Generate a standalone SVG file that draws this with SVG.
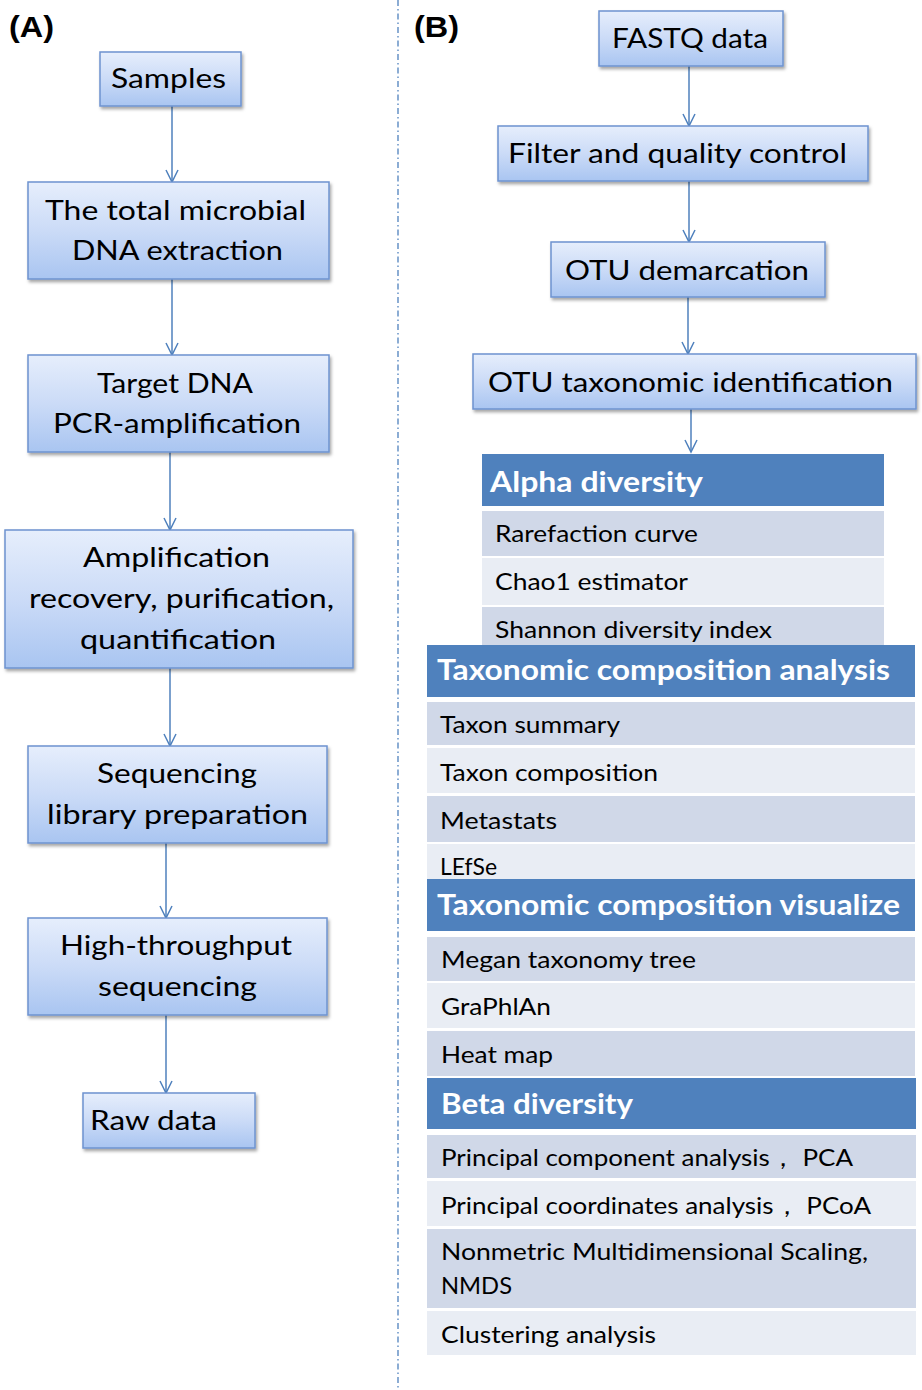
<svg xmlns="http://www.w3.org/2000/svg" width="922" height="1390" viewBox="0 0 922 1390">
<defs>
<linearGradient id="g" x1="0" y1="0" x2="0" y2="1">
<stop offset="0" stop-color="#E6EEFC"/>
<stop offset="0.5" stop-color="#CBDBF7"/>
<stop offset="1" stop-color="#A9C5F1"/>
</linearGradient>
<filter id="sh" x="-5%" y="-5%" width="112%" height="125%">
<feDropShadow dx="1.5" dy="2.5" stdDeviation="1.5" flood-color="#000" flood-opacity="0.35"/>
</filter>
<marker id="ar" markerUnits="userSpaceOnUse" markerWidth="16" markerHeight="14" refX="13" refY="7" orient="auto">
<path d="M1,1 L13,7 L1,13" fill="none" stroke="#4F81BD" stroke-width="1.5"/>
</marker>
<style>
.box{fill:url(#g);stroke:#6E93CF;stroke-width:1.5;filter:url(#sh)}
.t{font-family:Lato,"Open Sans","Liberation Sans",sans-serif;font-size:27px;fill:#000}
.lbl{font-family:"Liberation Sans",Arial,sans-serif;font-weight:bold;font-size:29px;fill:#000}
.hd{fill:#4F81BD}
.dk{fill:#D0D8E8}
.lt{fill:#E9EDF4}
.ht{font-family:Lato,"Open Sans","Liberation Sans",sans-serif;font-weight:bold;font-size:28px;fill:#fff}
.rt{font-family:Lato,"Open Sans","Liberation Sans",sans-serif;font-size:24px;fill:#000}
.con{stroke:#4F81BD;stroke-width:1.5;fill:none;marker-end:url(#ar)}
</style>
</defs>
<rect width="922" height="1390" fill="#fff"/>
<text class="lbl" x="9" y="37" textLength="45" lengthAdjust="spacingAndGlyphs">(A)</text>
<text class="lbl" x="414" y="37" textLength="45" lengthAdjust="spacingAndGlyphs">(B)</text>
<line x1="398" y1="0" x2="398" y2="1390" stroke="#4F81BD" stroke-width="1.3" stroke-dasharray="6,3,1.5,3"/>

<g id="connectors">
<line class="con" x1="172" y1="106" x2="172" y2="182"/>
<line class="con" x1="172" y1="279" x2="172" y2="355"/>
<line class="con" x1="170" y1="452" x2="170" y2="530"/>
<line class="con" x1="170" y1="668" x2="170" y2="746"/>
<line class="con" x1="166" y1="843" x2="166" y2="918"/>
<line class="con" x1="166" y1="1015" x2="166" y2="1093"/>
<line class="con" x1="689" y1="66" x2="689" y2="126"/>
<line class="con" x1="689" y1="181" x2="689" y2="242"/>
<line class="con" x1="688" y1="297" x2="688" y2="354"/>
<line class="con" x1="691" y1="409" x2="691" y2="452"/>
</g>

<g id="n-samples"><rect class="box" x="100" y="52" width="141" height="54"/>
<text class="t" x="111" y="88" textLength="115" lengthAdjust="spacingAndGlyphs">Samples</text></g>
<g id="n-extraction"><rect class="box" x="28" y="182" width="301" height="97"/>
<text class="t" x="45" y="220" textLength="261" lengthAdjust="spacingAndGlyphs">The total microbial</text>
<text class="t" x="72" y="260" textLength="211" lengthAdjust="spacingAndGlyphs">DNA extraction</text></g>
<g id="n-pcr"><rect class="box" x="28" y="355" width="301" height="97"/>
<text class="t" x="97" y="393" textLength="156" lengthAdjust="spacingAndGlyphs">Target DNA</text>
<text class="t" x="53" y="433" textLength="248" lengthAdjust="spacingAndGlyphs">PCR-amplification</text></g>
<g id="n-amp"><rect class="box" x="5" y="530" width="348" height="138"/>
<text class="t" x="83" y="567" textLength="187" lengthAdjust="spacingAndGlyphs">Amplification</text>
<text class="t" x="29" y="608" textLength="305" lengthAdjust="spacingAndGlyphs">recovery, purification,</text>
<text class="t" x="80" y="649" textLength="196" lengthAdjust="spacingAndGlyphs">quantification</text></g>
<g id="n-lib"><rect class="box" x="28" y="746" width="299" height="97"/>
<text class="t" x="97" y="783" textLength="160" lengthAdjust="spacingAndGlyphs">Sequencing</text>
<text class="t" x="47" y="824" textLength="261" lengthAdjust="spacingAndGlyphs">library preparation</text></g>
<g id="n-hts"><rect class="box" x="28" y="918" width="299" height="97"/>
<text class="t" x="60" y="955" textLength="232" lengthAdjust="spacingAndGlyphs">High-throughput</text>
<text class="t" x="98" y="996" textLength="159" lengthAdjust="spacingAndGlyphs">sequencing</text></g>
<g id="n-raw"><rect class="box" x="83" y="1093" width="172" height="55"/>
<text class="t" x="90" y="1130" textLength="127" lengthAdjust="spacingAndGlyphs">Raw data</text></g>

<g id="n-fastq"><rect class="box" x="599" y="11" width="184" height="55"/>
<text class="t" x="612" y="48" textLength="156" lengthAdjust="spacingAndGlyphs">FASTQ data</text></g>
<g id="n-filter"><rect class="box" x="498" y="126" width="370" height="55"/>
<text class="t" x="508" y="163" textLength="339" lengthAdjust="spacingAndGlyphs">Filter and quality control</text></g>
<g id="n-otu"><rect class="box" x="551" y="242" width="274" height="55"/>
<text class="t" x="565" y="280" textLength="244" lengthAdjust="spacingAndGlyphs">OTU demarcation</text></g>
<g id="n-otutax"><rect class="box" x="473" y="354" width="443" height="55"/>
<text class="t" x="488" y="392" textLength="405" lengthAdjust="spacingAndGlyphs">OTU taxonomic identification</text></g>

<g id="t-alpha">
<rect class="hd" x="482" y="454" width="402" height="52"/>
<text class="ht" x="490" y="492" textLength="213" lengthAdjust="spacingAndGlyphs">Alpha diversity</text>
<rect class="dk" x="482" y="511" width="402" height="45"/>
<text class="rt" x="495" y="542" textLength="203" lengthAdjust="spacingAndGlyphs">Rarefaction curve</text>
<rect class="lt" x="482" y="558" width="402" height="47"/>
<text class="rt" x="495" y="590" textLength="193" lengthAdjust="spacingAndGlyphs">Chao1 estimator</text>
<rect class="dk" x="482" y="607" width="402" height="38"/>
<text class="rt" x="495" y="638" textLength="277" lengthAdjust="spacingAndGlyphs">Shannon diversity index</text>
</g>
<g id="t-comp">
<rect class="hd" x="427" y="645" width="488" height="52"/>
<text class="ht" x="437" y="680" textLength="453" lengthAdjust="spacingAndGlyphs">Taxonomic composition analysis</text>
<rect class="dk" x="427" y="702" width="488" height="43"/>
<text class="rt" x="440" y="733" textLength="180" lengthAdjust="spacingAndGlyphs">Taxon summary</text>
<rect class="lt" x="427" y="748" width="488" height="45"/>
<text class="rt" x="440" y="781" textLength="218" lengthAdjust="spacingAndGlyphs">Taxon composition</text>
<rect class="dk" x="427" y="796" width="488" height="46"/>
<text class="rt" x="440" y="829" textLength="117" lengthAdjust="spacingAndGlyphs">Metastats</text>
<rect class="lt" x="427" y="844" width="488" height="35"/>
<text class="rt" x="440" y="875" textLength="57" lengthAdjust="spacingAndGlyphs">LEfSe</text>
</g>
<g id="t-vis">
<rect class="hd" x="427" y="879" width="488" height="52"/>
<text class="ht" x="437" y="915" textLength="463" lengthAdjust="spacingAndGlyphs">Taxonomic composition visualize</text>
<rect class="dk" x="427" y="937" width="488" height="44"/>
<text class="rt" x="441" y="968" textLength="255" lengthAdjust="spacingAndGlyphs">Megan taxonomy tree</text>
<rect class="lt" x="427" y="983" width="488" height="45"/>
<text class="rt" x="441" y="1015" textLength="110" lengthAdjust="spacingAndGlyphs">GraPhlAn</text>
<rect class="dk" x="427" y="1031" width="488" height="45"/>
<text class="rt" x="441" y="1063" textLength="112" lengthAdjust="spacingAndGlyphs">Heat map</text>
</g>
<g id="t-beta">
<rect class="hd" x="427" y="1078" width="489" height="51"/>
<text class="ht" x="441" y="1114" textLength="192" lengthAdjust="spacingAndGlyphs">Beta diversity</text>
<rect class="dk" x="427" y="1135" width="489" height="43"/>
<text class="rt" x="441" y="1166" textLength="412" lengthAdjust="spacingAndGlyphs">Principal component analysis，  PCA</text>
<rect class="lt" x="427" y="1181" width="489" height="45"/>
<text class="rt" x="441" y="1214" textLength="430" lengthAdjust="spacingAndGlyphs">Principal coordinates analysis，  PCoA</text>
<rect class="dk" x="427" y="1229" width="489" height="79"/>
<text class="rt" x="441" y="1260" textLength="427" lengthAdjust="spacingAndGlyphs">Nonmetric Multidimensional Scaling,</text>
<text class="rt" x="441" y="1294" textLength="71" lengthAdjust="spacingAndGlyphs">NMDS</text>
<rect class="lt" x="427" y="1311" width="489" height="44"/>
<text class="rt" x="441" y="1343" textLength="215" lengthAdjust="spacingAndGlyphs">Clustering analysis</text>
</g>
</svg>
